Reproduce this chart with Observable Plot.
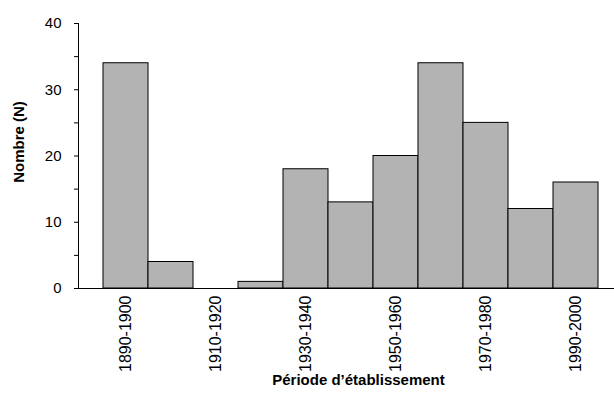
<!DOCTYPE html>
<html>
<head>
<meta charset="utf-8">
<script src="https://cdn.jsdelivr.net/npm/d3@7"></script>
<script src="https://cdn.jsdelivr.net/npm/@observablehq/plot@0.6"></script>
<style>
  html, body { margin: 0; padding: 0; background: #fff; }
  svg { display: block; }
</style>
</head>
<body>
<div id="chart"></div>
<script>
const periods = ["1890-1900","1900-1910","1910-1920","1920-1930","1930-1940","1940-1950","1950-1960","1960-1970","1970-1980","1980-1990","1990-2000"];
const counts = [34, 4, 0, 1, 18, 13, 20, 34, 25, 12, 16];
const yTicks = [0, 5, 10, 15, 20, 25, 30, 35, 40];
const xLabels = ["1890-1900","1910-1920","1930-1940","1950-1960","1970-1980","1990-2000"];
const xTitle = "Période d’établissement";
const yTitle = "Nombre (N)";

const data = periods.map((p, i) => ({period: p, n: counts[i]}));

const chart = Plot.plot({
  width: 614,
  height: 408,
  marginLeft: 78,
  marginRight: 0,
  marginTop: 23,
  marginBottom: 120,
  style: {fontFamily: "'Liberation Sans', Arial, sans-serif", fontSize: "15px", color: "#000", background: "#fff"},
  x: {type: "band", domain: periods, range: [101.3, 598.7], padding: 0},
  y: {domain: [0, 40]},
  marks: [
    Plot.barY(data, {x: "period", y: "n", fill: "#b3b3b3", stroke: "#000", strokeWidth: 1}),
    Plot.ruleY([0], {stroke: "#000", strokeWidth: 1}),
    Plot.frame({anchor: "left", stroke: "#000", strokeWidth: 1}),
    Plot.axisY({ticks: yTicks, tickSize: 4, tickPadding: 13, tickFormat: d => d % 10 === 0 ? String(d) : "", label: null, fontSize: 15, stroke: "#000"}),
    Plot.axisX({ticks: xLabels, tickSize: 0, tickRotate: -90, tickPadding: 7, label: null, fontSize: 16}),
    Plot.text([xTitle], {frameAnchor: "bottom", dy: 96, dx: 12, text: d => d, fontWeight: "bold", fontSize: 15, fill: "#000"}),
    Plot.text([yTitle], {frameAnchor: "left", textAnchor: "middle", dx: -59, dy: -14, rotate: -90, text: d => d, fontWeight: "bold", fontSize: 15, fill: "#000"})
  ]
});
document.getElementById("chart").appendChild(chart);
</script>
</body>
</html>
